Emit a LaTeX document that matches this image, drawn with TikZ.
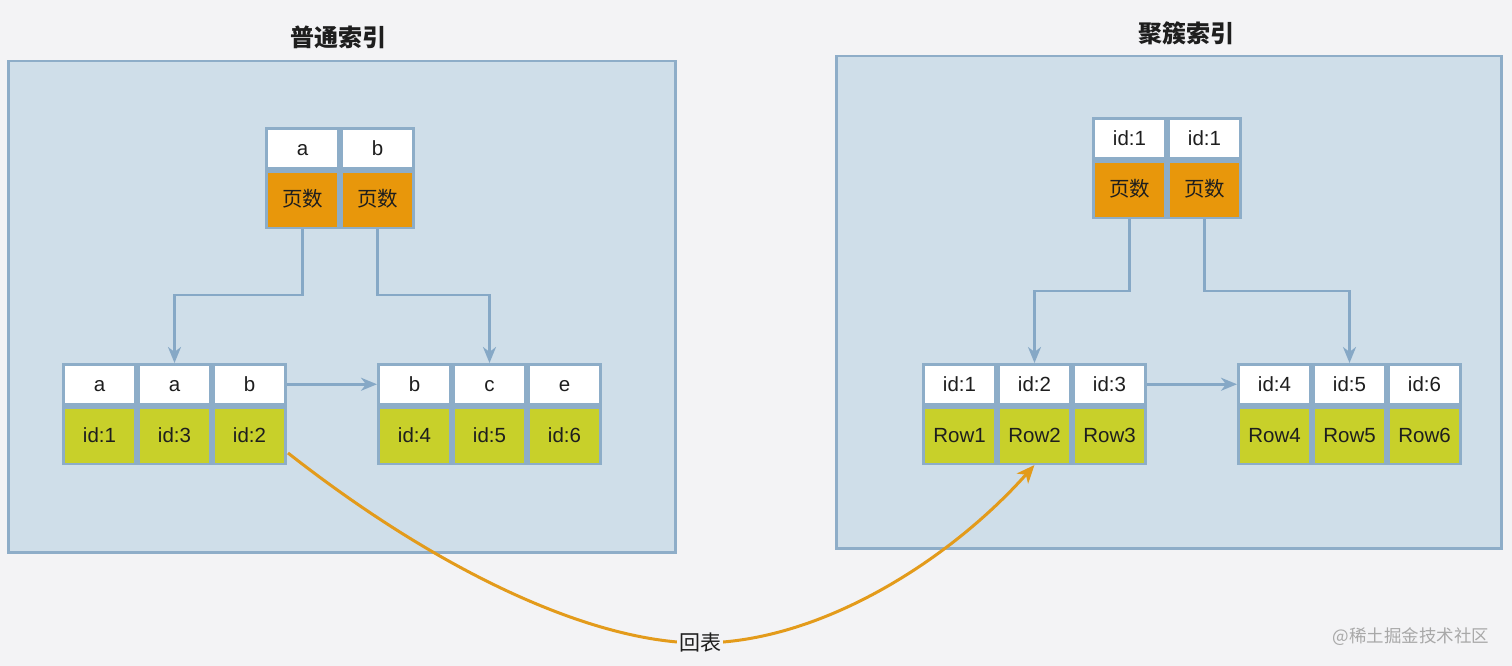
\documentclass[tikz,border=0pt]{standalone}
\usepackage{fontspec}
\setmainfont{Liberation Sans}
\newfontfamily\cjk{Noto Sans CJK SC}
\usetikzlibrary{arrows.meta,calc}
\definecolor{bg}{HTML}{F3F3F5}
\definecolor{panelfill}{HTML}{CFDEE9}
\definecolor{panelborder}{HTML}{8EADC8}
\definecolor{gridborder}{HTML}{8DADC8}
\definecolor{orangec}{HTML}{E8970B}
\definecolor{greenc}{HTML}{C8D02A}
\definecolor{connc}{HTML}{86A8C6}
\definecolor{curvec}{HTML}{E39B1B}
\definecolor{textc}{HTML}{1E1E1E}
\definecolor{wmc}{HTML}{A8A8A8}
\newcommand\mkgrid[6]{%
  \pgfmathsetmacro\gw{75*#4}%
  \node[gridbox, minimum width=\gw pt, anchor=north west] (#1) at (#2,#3) {};
  \foreach \ta/\tb [count=\i] in {#6}{%
    \pgfmathsetmacro\cx{#2+3+(\i-1)*75}%
    \node[topcell, anchor=north west] (#1-t\i) at (\cx,#3+3) {\ta};
    \node[botcell, fill=#5, anchor=north west] (#1-b\i) at (\cx,#3+45.5) {\tb};
  }}
\begin{document}
\begin{tikzpicture}[x=1pt,y=-1pt,
  panel/.style={draw=panelborder, line width=2.5pt, fill=panelfill, inner sep=0, anchor=north west},
  titlec/.style={font=\cjk\bfseries\fontsize{24}{27}\selectfont, text=textc},
  gridbox/.style={fill=gridborder, minimum height=102pt, inner sep=0, outer sep=0},
  cellbase/.style={inner sep=0, outer sep=0, minimum width=69pt, text height=14.7pt, text depth=0pt, font=\fontsize{20.5}{23}\selectfont, text=textc},
  topcell/.style={cellbase, fill=white, minimum height=36.5pt},
  botcell/.style={cellbase, minimum height=54pt},
  conn/.style={draw=connc, line width=2.5pt, -{Stealth[length=16pt,width=13pt,inset=5pt]}},
  backc/.style={draw=curvec, line width=3pt, -{Stealth[length=18pt,width=15pt,inset=5pt]}},
  lbl/.style={fill=bg, inner sep=2pt, font=\cjk\fontsize{21}{23}\selectfont, text=textc}
]
\fill[bg] (0,0) rectangle (1512,666);
\useasboundingbox (0,0) rectangle (1512,666);

% panels
\node[panel, minimum width=667pt, minimum height=491pt] (P1) at (7,60) {};
\node[panel, minimum width=665pt, minimum height=492pt] (P2) at (835,55) {};
\node[titlec] (title1) at (338,37) {普通索引};
\node[titlec] (title2) at (1186,33) {聚簇索引};

% left index
\mkgrid{T1}{265}{127}{2}{orangec}{a/{\cjk 页数}, b/{\cjk 页数}}
\mkgrid{L1}{62}{363}{3}{greenc}{a/id:1, a/id:3, b/id:2}
\mkgrid{L2}{377}{363}{3}{greenc}{b/id:4, c/id:5, e/id:6}

% right index
\mkgrid{T2}{1092}{117}{2}{orangec}{id:1/{\cjk 页数}, id:1/{\cjk 页数}}
\mkgrid{R1}{922}{363}{3}{greenc}{id:1/Row1, id:2/Row2, id:3/Row3}
\mkgrid{R2}{1237}{363}{3}{greenc}{id:4/Row4, id:5/Row5, id:6/Row6}

% connectors left
\draw[conn] (T1-b1.south |- T1.south) -- ++(0,66) -| (L1-t2.north |- L1.north);
\draw[conn] (T1-b2.south |- T1.south) -- ++(0,66) -| (L2-t2.north |- L2.north);
\draw[conn] (L1-t3.east -| L1.east) -- (L2-t1.west -| L2.west);

% connectors right
\draw[conn] (T2-b1.south |- T2.south) -- ++(0,72) -| (R1-t2.north |- R1.north);
\draw[conn] (T2-b2.south |- T2.south) -- ++(0,72) -| (R2-t2.north |- R2.north);
\draw[conn] (R1-t3.east -| R1.east) -- (R2-t1.west -| R2.west);

% back to table curve
\coordinate (cs) at ($(L1.south east)+(1,-12)$);
\coordinate (cm) at (700,643);
\coordinate (ce) at (R1.south -| R1-b2.south);
\draw[backc] (cs) .. controls (450,580) and (600,643) .. (cm)
  .. controls (820,643) and (950,560) .. (ce);
\node[lbl] (back) at (cm) {回表};

% watermark
\node[font=\cjk\fontsize{17.5}{19}\selectfont, text=wmc] (wm) at (1411,637) {@稀土掘金技术社区};
\end{tikzpicture}
\end{document}
